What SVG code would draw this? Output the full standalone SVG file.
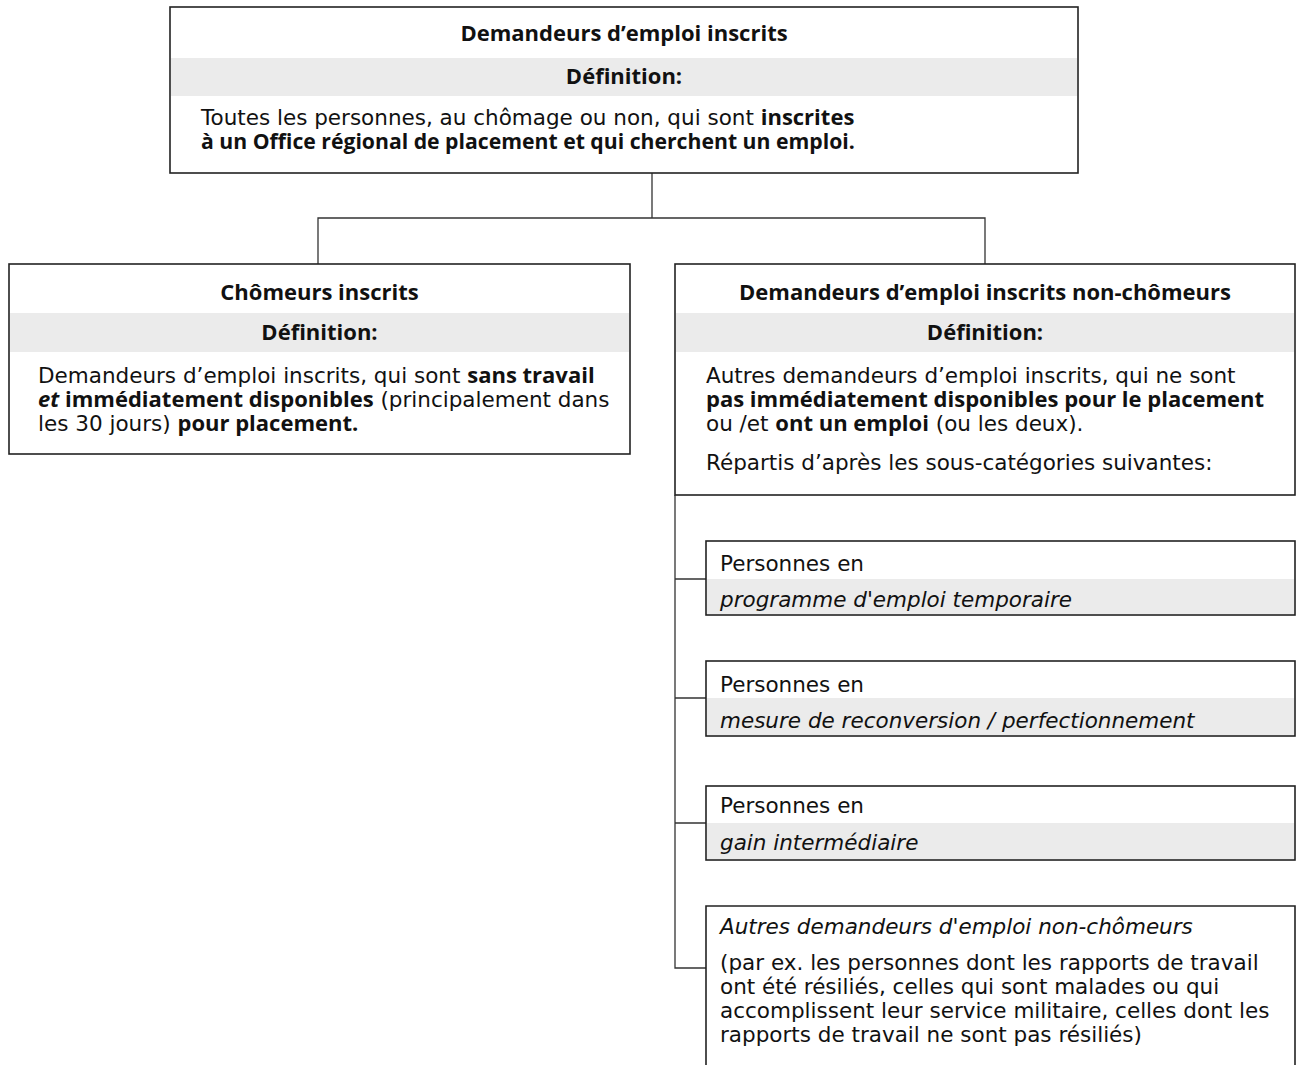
<svg xmlns="http://www.w3.org/2000/svg" width="1300" height="1065" viewBox="0 0 1300 1065">
<style>
text{font-family:"DejaVu Sans","Liberation Sans",sans-serif;font-size:21.5px;fill:#111}
.b{font-family:"Open Sans","Noto Sans","Liberation Sans",sans-serif;font-weight:bold;font-size:22px}
.i{font-style:italic}
.c{text-anchor:middle}
.box{fill:#fff;stroke:#222;stroke-width:1.6}
.band{fill:#ebebeb}
.line{fill:none;stroke:#333;stroke-width:1.3}
</style>
<rect width="1300" height="1065" fill="#fff"/>
<g id="connectors">
<path class="line" d="M652,173V218M318,264V218H985V264"/>
<path class="line" d="M675,495V968H706M675,579H706M675,698H706M675,823H706"/>
</g>
<g id="top">
<rect class="box" x="170" y="7" width="908" height="166"/>
<rect class="band" x="171" y="58" width="906" height="38"/>
<text class="b c" x="624" y="41">Demandeurs d’emploi inscrits</text>
<text class="b c" x="624" y="84">Définition:</text>
<text x="201" y="125">Toutes les personnes, au chômage ou non, qui sont <tspan class="b">inscrites</tspan></text>
<text class="b" x="201" y="149" style="font-size:21.2px">à un Office régional de placement et qui cherchent un emploi.</text>
</g>
<g id="chomeurs">
<rect class="box" x="9" y="264" width="621" height="190"/>
<rect class="band" x="10" y="313" width="619" height="39"/>
<text class="b c" x="319.5" y="300">Chômeurs inscrits</text>
<text class="b c" x="319.5" y="340">Définition:</text>
<text x="38" y="383">Demandeurs d’emploi inscrits, qui sont <tspan class="b">sans travail</tspan></text>
<text x="38" y="407"><tspan class="b" font-style="italic">et</tspan><tspan class="b"> immédiatement disponibles</tspan> (principalement dans</text>
<text x="38" y="431">les 30 jours) <tspan class="b">pour placement.</tspan></text>
</g>
<g id="non-chomeurs">
<rect class="box" x="675" y="264" width="620" height="231"/>
<rect class="band" x="676" y="313" width="618" height="39"/>
<text class="b c" x="985" y="300">Demandeurs d’emploi inscrits non-chômeurs</text>
<text class="b c" x="985" y="340">Définition:</text>
<text x="706" y="383">Autres demandeurs d’emploi inscrits, qui ne sont</text>
<text class="b" x="706" y="407">pas immédiatement disponibles pour le placement</text>
<text x="706" y="431">ou /et <tspan class="b">ont un emploi</tspan> (ou les deux).</text>
<text x="706" y="470">Répartis d’après les sous-catégories suivantes:</text>
</g>
<g id="programme">
<rect class="box" x="706" y="541" width="589" height="74"/>
<rect class="band" x="707" y="579" width="587" height="35"/>
<text x="720" y="571">Personnes en</text>
<text class="i" x="720" y="607">programme d'emploi temporaire</text>
</g>
<g id="mesure">
<rect class="box" x="706" y="661" width="589" height="75"/>
<rect class="band" x="707" y="698" width="587" height="37"/>
<text x="720" y="692">Personnes en</text>
<text class="i" x="720" y="728">mesure de reconversion / perfectionnement</text>
</g>
<g id="gain">
<rect class="box" x="706" y="786" width="589" height="74"/>
<rect class="band" x="707" y="823" width="587" height="36"/>
<text x="720" y="813">Personnes en</text>
<text class="i" x="720" y="850">gain intermédiaire</text>
</g>
<g id="autres">
<rect class="band" x="707" y="906" width="587" height="38"/>
<path class="box" d="M706,1066V906H1295V1066" fill="none"/>
<text class="i" x="720" y="934">Autres demandeurs d'emploi non-chômeurs</text>
<text x="720" y="970">(par ex. les personnes dont les rapports de travail</text>
<text x="720" y="994">ont été résiliés, celles qui sont malades ou qui</text>
<text x="720" y="1018">accomplissent leur service militaire, celles dont les</text>
<text x="720" y="1042">rapports de travail ne sont pas résiliés)</text>
</g>
</svg>
